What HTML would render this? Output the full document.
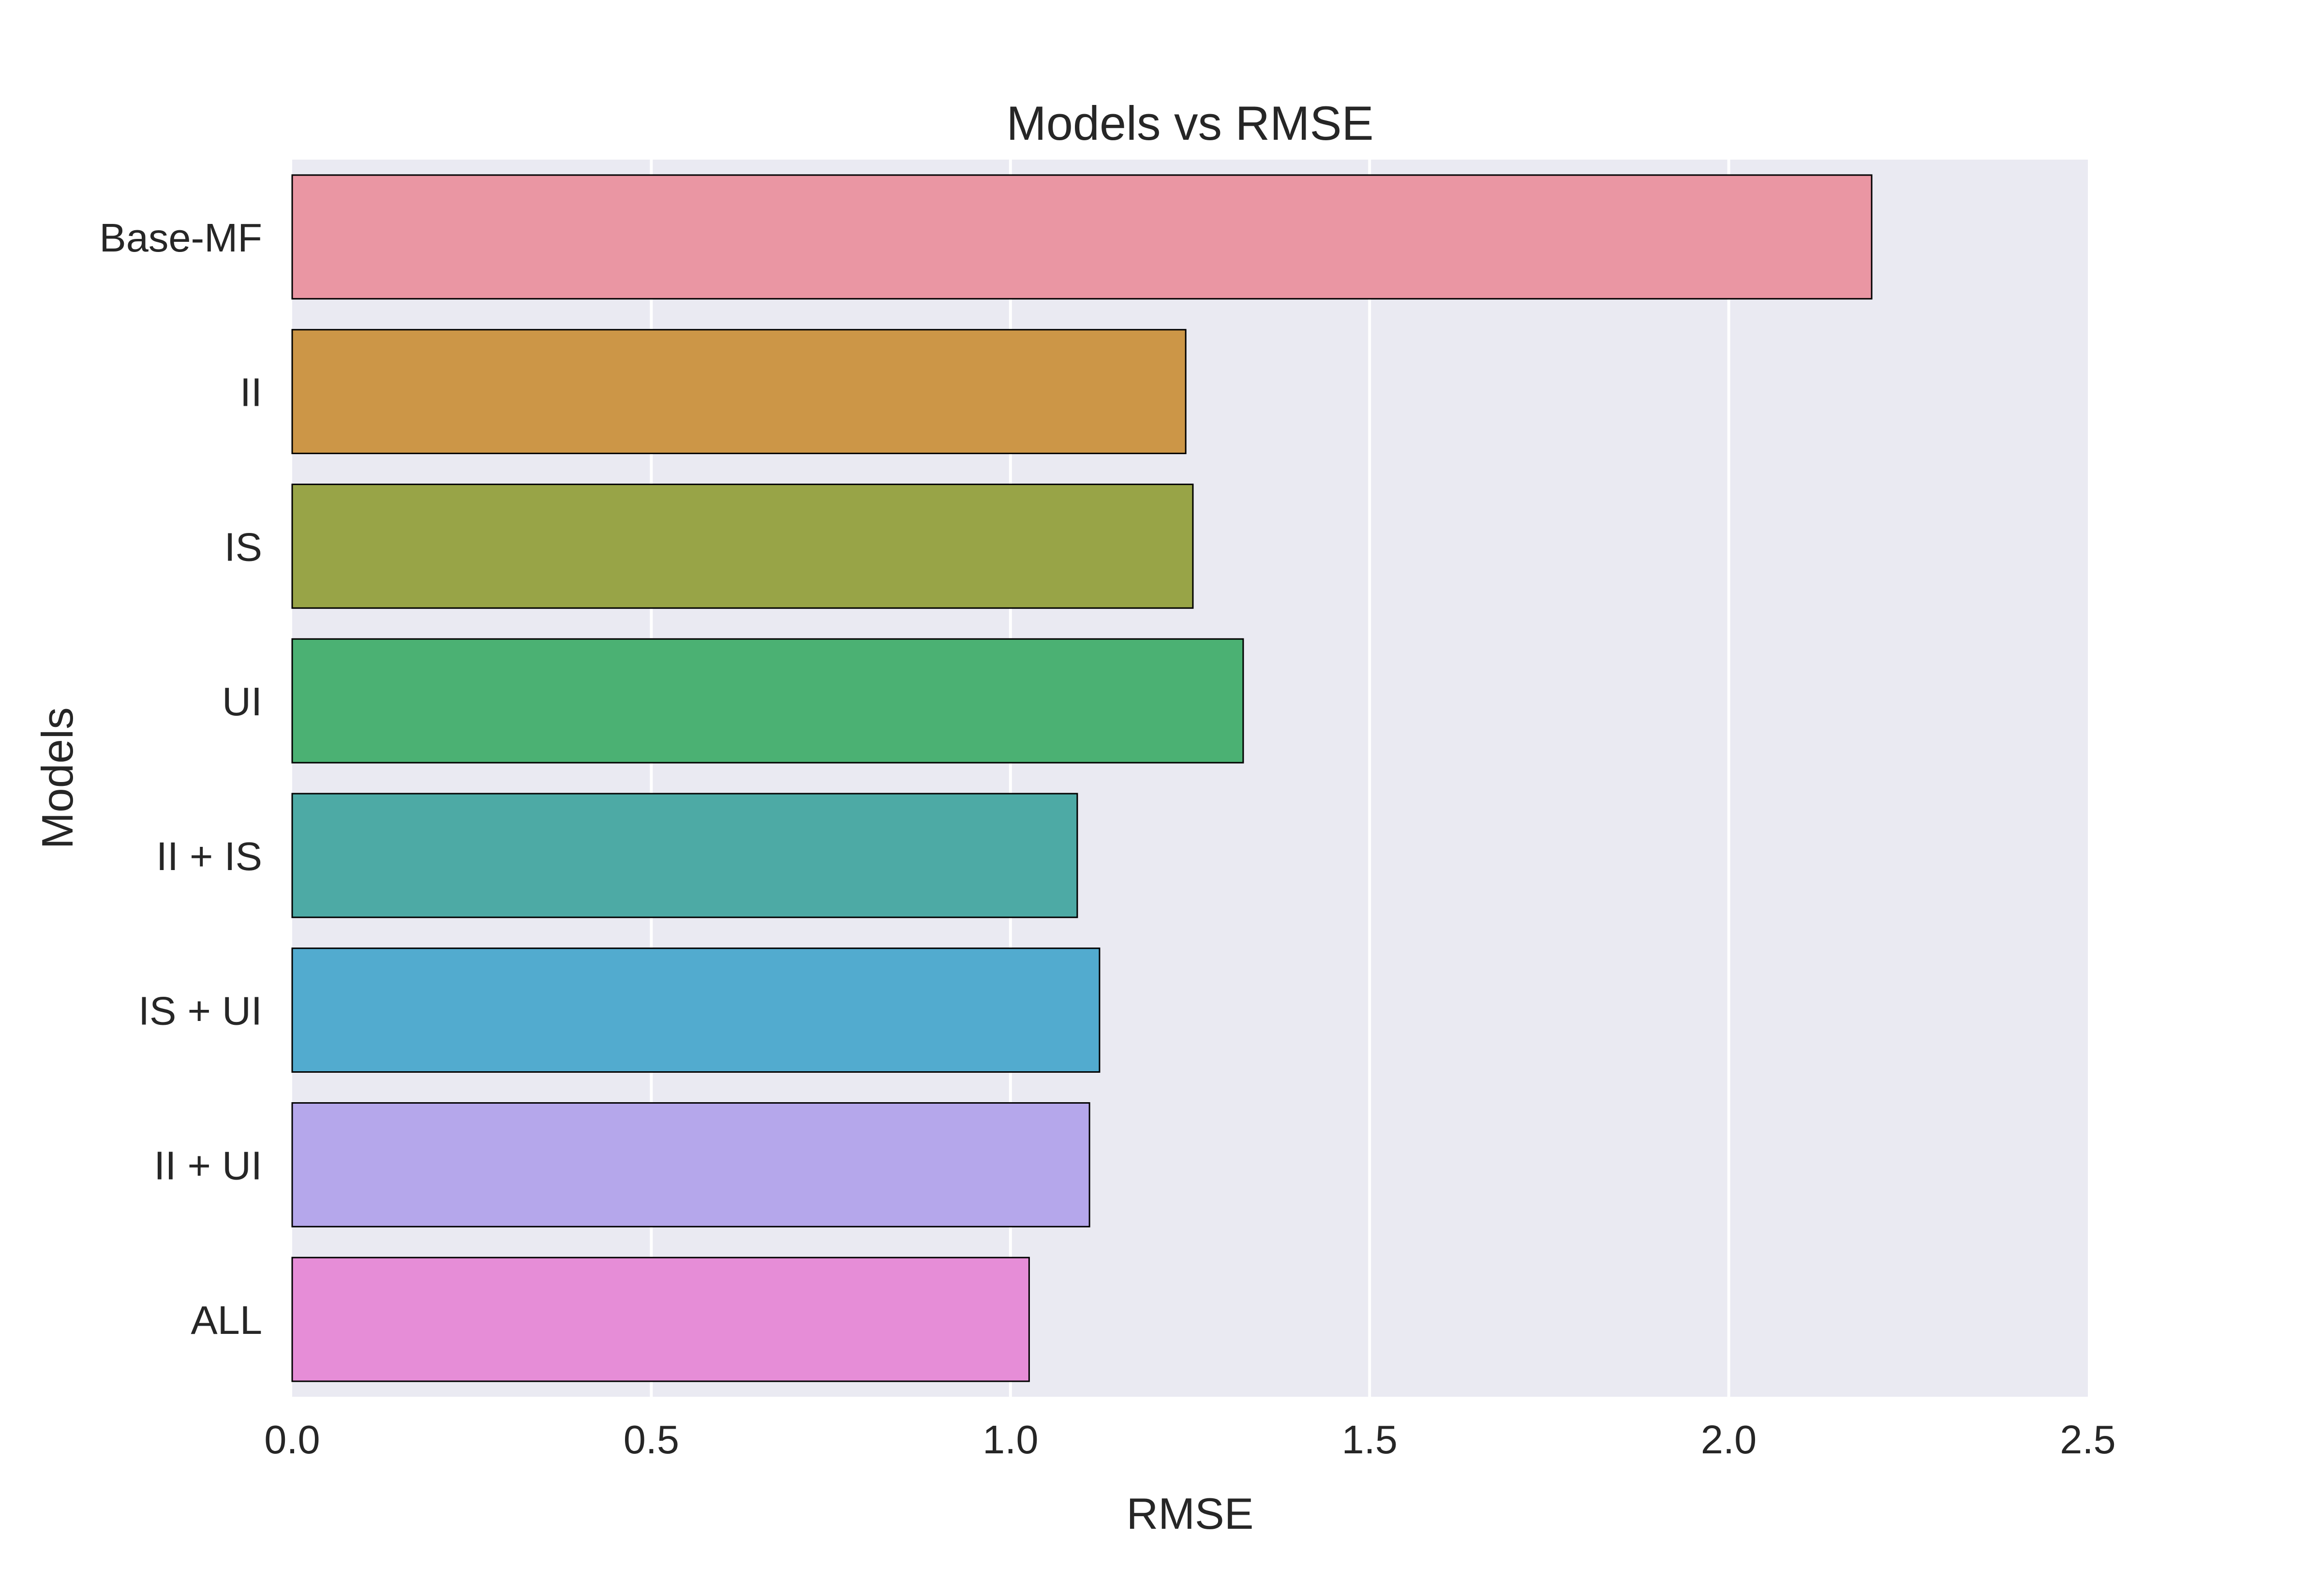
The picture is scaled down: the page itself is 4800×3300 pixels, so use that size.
<!DOCTYPE html>
<html><head><meta charset="utf-8"><style>
html,body{margin:0;padding:0;background:#fff}
svg{display:block}
text{font-family:"Liberation Sans",Arial,sans-serif;fill:#262626}
</style></head><body>
<svg id="chart" width="4800" height="3300" viewBox="0 0 4800 3300" xmlns="http://www.w3.org/2000/svg">
<rect x="0" y="0" width="4800" height="3300" fill="#fff"/>
<rect x="604" y="330" width="3712" height="2558" fill="#EAEAF2"/>
<g id="grid"></g><g id="bars"></g><g id="xticks"></g><g id="yticks"></g>
<text x="2460" y="289" font-size="99" text-anchor="middle">Models vs RMSE</text>
<text x="2460" y="3161" font-size="91" text-anchor="middle">RMSE</text>
<text x="0" y="0" font-size="91" text-anchor="middle" transform="translate(150,1609) rotate(-90)">Models</text>
</svg>
<script>
const categories = ["Base-MF","II","IS","UI","II + IS","IS + UI","II + UI","ALL"];
const rmseValues = [2.199,1.244,1.254,1.324,1.093,1.124,1.110,1.026];
const xTickValues = [0,0.5,1,1.5,2,2.5];
const xTickLabels = ["0.0","0.5","1.0","1.5","2.0","2.5"];
const colors = ["#EA96A3","#CC9647","#98A447","#4BB173","#4DAAA5","#52ABCF","#B5A7EB","#E68DD7"];

const L=604,R=4316,T=330,B=2888,XMAX=2.5;
const ns="http://www.w3.org/2000/svg";
function xs(v){return L+(v/XMAX)*(R-L);}
const band=(B-T)/categories.length;
function yc(i){return T+band*(i+0.5);}
function mk(tag,attrs,parent){const e=document.createElementNS(ns,tag);for(const k in attrs)e.setAttribute(k,attrs[k]);document.getElementById(parent).appendChild(e);return e;}

xTickValues.forEach((v,i)=>{
  if(v>0&&v<XMAX){
    const g=mk('line',{x1:xs(v),x2:xs(v),y1:T,y2:B,stroke:'#fff','stroke-width':6},'grid');
    
    
  }
  const t=mk('text',{x:xs(v),y:3005,'font-size':83,'text-anchor':'middle'},'xticks');
  t.textContent=xTickLabels[i];
  
  
});

categories.forEach((c,i)=>{
  const h=band*0.8;
  const r=mk('rect',{x:L,y:yc(i)-h/2,width:xs(rmseValues[i])-L,height:h,fill:colors[i],stroke:'#000','stroke-width':3},'bars');
  
  
  const t=mk('text',{x:542,y:yc(i)+30,'font-size':83,'text-anchor':'end'},'yticks');
  t.textContent=c;
  
  
});
</script>
</body></html>
